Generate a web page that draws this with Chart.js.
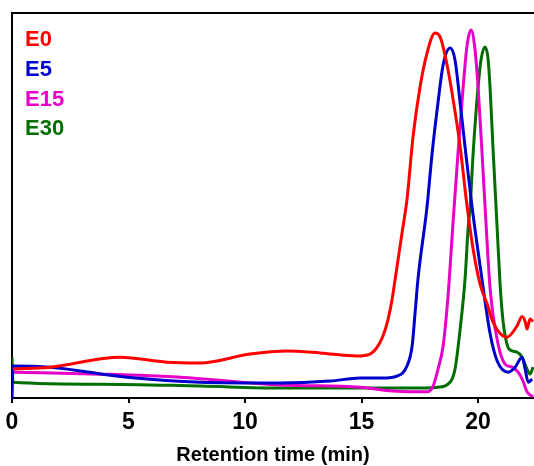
<!DOCTYPE html>
<html>
<head>
<meta charset="utf-8">
<script src="https://cdn.jsdelivr.net/npm/chart.js@4/dist/chart.umd.min.js"></script>
<style>
  html, body { margin: 0; padding: 0; background: #fff; }
  #wrap { width: 534px; height: 466px; }
</style>
</head>
<body>
<div id="wrap"><canvas id="gpc"></canvas></div>
<script>
// retention time (min) and normalised detector signal
const timeE0 = [0.04, 1.63, 4.64, 6.65, 8.07, 10.21, 11.80, 13.22, 14.81, 15.36, 15.67, 15.92, 16.14, 16.31, 16.44, 16.74, 16.95, 17.21, 17.51, 17.81, 18.15, 18.37, 18.67, 18.93, 19.23, 19.53, 19.79, 20.09, 20.39, 20.64, 21.24, 21.67, 21.89, 22.02, 22.10, 22.23, 22.36];
const signalE0 = [7.5, 8.0, 10.6, 9.3, 9.1, 11.4, 12.2, 11.7, 10.9, 11.4, 13.2, 16.1, 20.5, 25.6, 30.8, 43.0, 51.6, 67.9, 80.8, 89.6, 94.8, 93.8, 86.5, 77.5, 65.3, 49.7, 38.6, 29.5, 24.4, 19.7, 15.8, 18.7, 21.2, 19.9, 17.9, 20.5, 19.9];

const timeE5 = [0, 0.04, 1.63, 4.94, 8.07, 11.50, 13.65, 14.94, 15.92, 16.52, 16.95, 17.17, 17.30, 17.42, 17.81, 18.03, 18.28, 18.50, 18.80, 19.01, 19.23, 19.44, 19.74, 20.09, 20.52, 20.82, 21.29, 21.59, 21.89, 22.02, 22.15, 22.32];
const signalE5 = [0, 8.3, 8.0, 5.4, 4.1, 3.9, 4.4, 5.2, 5.2, 5.7, 8.3, 13.5, 22.3, 30.8, 49.7, 63.7, 76.7, 86.5, 90.9, 87.8, 76.7, 65.3, 49.7, 34.2, 16.6, 9.6, 6.7, 8.0, 10.6, 7.5, 4.1, 4.9];

const timeE15 = [0.04, 3.78, 7.21, 11.50, 14.94, 16.35, 17.08, 17.81, 18.07, 18.28, 18.50, 18.71, 18.93, 19.14, 19.36, 19.53, 19.70, 19.87, 20.00, 20.17, 20.30, 20.52, 20.86, 21.16, 21.46, 21.72, 21.93, 22.10, 22.36];
const signalE15 = [6.7, 6.2, 5.4, 3.4, 2.8, 1.8, 1.6, 1.6, 3.1, 7.5, 13.5, 26.4, 45.9, 63.7, 80.8, 91.7, 95.6, 90.4, 80.8, 63.7, 49.7, 28.2, 14.0, 8.8, 8.0, 6.7, 4.4, 1.6, 0.3];

const timeE30 = [0, 0.04, 3.78, 8.07, 11.50, 14.94, 17.73, 18.28, 18.71, 19.01, 19.23, 19.44, 19.57, 19.66, 19.79, 20.00, 20.13, 20.30, 20.43, 20.52, 20.64, 20.82, 20.94, 21.07, 21.20, 21.33, 21.67, 21.89, 22.10, 22.23, 22.36];
const signalE30 = [10.6, 4.1, 3.6, 3.1, 2.6, 2.6, 2.6, 2.8, 3.6, 7.5, 17.9, 30.8, 43.8, 49.7, 63.7, 80.8, 88.0, 91.2, 88.0, 80.0, 65.0, 44.0, 30.0, 20.0, 15.0, 12.7, 11.9, 10.6, 7.5, 6.2, 8.0];

const seriesNames = ['E0', 'E5', 'E15', 'E30'];
const seriesColors = ['#ff0000', '#0000cc', '#e600c8', '#006e00'];
const xTicks = [0, 5, 10, 15, 20];

const FONT = '"Liberation Sans", Arial, sans-serif';

function pairs(xs, ys) {
    return xs.map((x, i) => ({ x: x, y: ys[i] }));
}

const allTimes = [timeE0, timeE5, timeE15, timeE30];
const allSignals = [signalE0, signalE5, signalE15, signalE30];

const datasets = seriesNames.map((name, i) => ({
    label: name,
    data: pairs(allTimes[i], allSignals[i]),
    borderColor: seriesColors[i],
    borderWidth: 3,
    pointRadius: 0,
    fill: false,
    cubicInterpolationMode: 'monotone'
}));

// legend drawn as coloured text in the top-left corner, plus the top frame line
const frameAndLegend = {
    id: 'frameAndLegend',
    afterDraw(chart) {
        const ctx = chart.ctx;
        const area = chart.chartArea;
        ctx.save();
        ctx.strokeStyle = '#000';
        ctx.lineWidth = 2;
        ctx.beginPath();
        ctx.moveTo(area.left - 1, area.top);
        ctx.lineTo(chart.width, area.top);
        ctx.stroke();

        ctx.font = 'bold 22px ' + FONT;
        ctx.textBaseline = 'middle';
        ctx.textAlign = 'left';
        chart.data.datasets.forEach((ds, i) => {
            ctx.fillStyle = ds.borderColor;
            ctx.fillText(ds.label, 25, area.top + 27 + i * 29.8);
        });
        ctx.restore();
    }
};

new Chart(document.getElementById('gpc'), {
    type: 'line',
    data: { datasets: datasets },
    options: {
        responsive: true,
        maintainAspectRatio: false,
        animation: false,
        layout: { padding: { left: 12, top: 13, right: 0, bottom: 1 } },
        plugins: {
            legend: { display: false },
            tooltip: { enabled: false }
        },
        scales: {
            x: {
                type: 'linear',
                min: 0,
                max: 22.4,
                afterBuildTicks: function (scale) {
                    scale.ticks = xTicks.map(v => ({ value: v }));
                },
                afterFit: function (scale) {
                    // the "0" label may hang over the left edge, as in the figure
                    scale.paddingLeft = 0;
                },
                ticks: {
                    color: '#000',
                    padding: 8,
                    maxRotation: 0,
                    font: { family: FONT, size: 23, weight: 'bold', lineHeight: 1 }
                },
                grid: {
                    display: true,
                    drawOnChartArea: false,
                    drawTicks: true,
                    tickLength: 5,
                    color: '#000',
                    lineWidth: 2
                },
                border: { display: true, color: '#000', width: 2 },
                title: {
                    display: true,
                    text: 'Retention time (min)',
                    color: '#000',
                    padding: { top: 3, bottom: 0 },
                    font: { family: FONT, size: 20, weight: 'bold', lineHeight: 1 }
                }
            },
            y: {
                min: 0,
                max: 100,
                ticks: { display: false },
                grid: { display: false, drawTicks: false },
                border: { display: true, color: '#000', width: 2 }
            }
        }
    },
    plugins: [frameAndLegend]
});
</script>
</body>
</html>
